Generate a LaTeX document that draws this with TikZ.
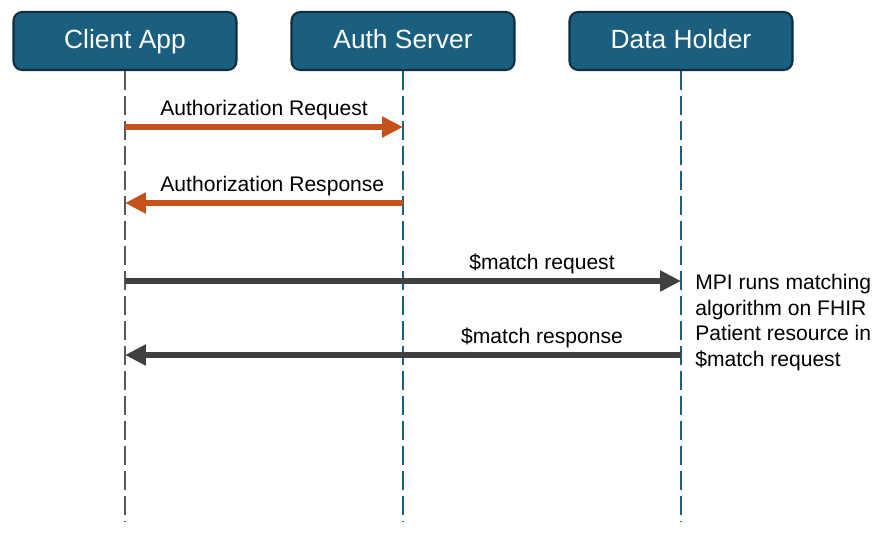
\documentclass[tikz,border=0pt]{standalone}
\usepackage{fontspec}
\setmainfont{Liberation Sans}
\usetikzlibrary{arrows.meta,positioning}

\definecolor{actorblue}{HTML}{1A5E80}
\definecolor{actoredge}{HTML}{0F2F40}
\definecolor{authorange}{HTML}{C4521A}
\definecolor{matchgray}{HTML}{404040}
\definecolor{lifegray}{HTML}{595959}

\begin{document}
\begin{tikzpicture}[x=0.02cm, y=-0.02cm,
    actor/.style={draw=actoredge, line width=1.2pt, fill=actorblue,
      rounded corners=5pt, minimum width=4.46cm, minimum height=1.16cm,
      text height=1.08em, text depth=0.2em,
      text=white, font=\fontsize{15}{18}\selectfont},
    lifeline/.style={line width=1.2pt, dash pattern=on 0.38cm off 0.12cm},
    msg/.style={line width=0.12cm, -{Triangle[length=0.42cm, width=0.4cm]}},
    msglabel/.style={anchor=base, yshift=6.5pt, text=black,
      font=\fontsize{12}{14}\selectfont},
    note/.style={align=left, inner sep=0pt, font=\fontsize{12}{14.5}\selectfont}]

  \useasboundingbox (0,0) rectangle (883,542);

  %%%%%%%%%%%%%%%%%%%%%%%%%%%%%%%%%%%%%%%%%%%%%%%%%
  % Actors
  \node[actor] (client) at (125,41) {Client App};
  \node[actor] (auth) at (403,41) {Auth Server};
  \node[actor] (holder) at (681,41) {Data Holder};

  % Lifelines
  \coordinate (client end) at (125,522);
  \coordinate (auth end) at (403,522);
  \coordinate (holder end) at (681,522);
  \draw[lifeline, lifegray] (client.south) -- (client end);
  \draw[lifeline, actorblue] (auth.south) -- (auth end);
  \draw[lifeline, actorblue] (holder.south) -- (holder end);

  %%%%%%%%%%%%%%%%%%%%%%%%%%%%%%%%%%%%%%%%%%%%%%%%%
  % Authorization
  \coordinate (c1) at (125,127);
  \coordinate (a1) at (403,127);
  \coordinate (c2) at (125,203);
  \coordinate (a2) at (403,203);

  \draw[msg, authorange] (c1) -- node[msglabel] {Authorization Request} (a1);
  \draw[msg, authorange] (a2) -- node[msglabel, pos=0.47] {Authorization Response} (c2);

  %%%%%%%%%%%%%%%%%%%%%%%%%%%%%%%%%%%%%%%%%%%%%%%%%
  % $match
  \coordinate (c3) at (125,281);
  \coordinate (h3) at (681,281);
  \coordinate (c4) at (125,355);
  \coordinate (h4) at (681,355);

  \draw[msg, matchgray] (c3) -- node[msglabel, pos=0.75] {\$match request} (h3);
  \draw[msg, matchgray] (h4) -- node[msglabel, pos=0.25] {\$match response} (c4);

  % Matching note
  \node[note, anchor=north west] (mpi note) at (695,274)
    {MPI runs matching\\algorithm on FHIR\\Patient resource in\\\$match request};

\end{tikzpicture}
\end{document}
